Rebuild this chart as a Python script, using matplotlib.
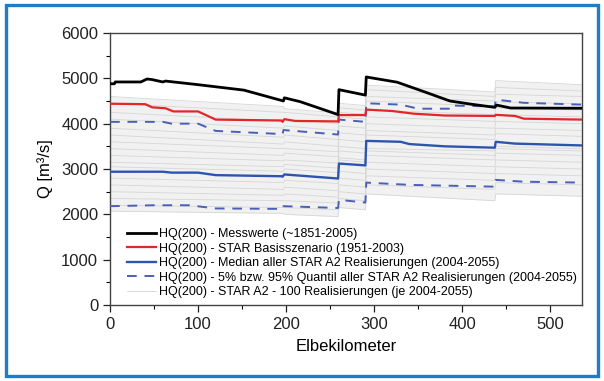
import numpy as np
import matplotlib
matplotlib.use("Agg")
import matplotlib.pyplot as plt
from matplotlib.patches import Rectangle
from matplotlib.ticker import MultipleLocator

plt.rcParams["font.family"] = ["Liberation Sans", "DejaVu Sans"]

# -----------------------
# Data
# -----------------------
x_mess = [0, 5, 6, 35, 42, 47, 60, 63, 100, 152, 197, 198, 216, 259, 260, 290, 291,
          326, 356, 386, 410, 437, 439, 455, 535]
y_mess = [4880, 4880, 4920, 4920, 4985, 4975, 4920, 4940, 4860, 4740, 4500, 4570, 4485, 4200, 4750, 4630, 5030,
          4915, 4710, 4500, 4430, 4360, 4410, 4345, 4340]

x_basis = [0, 40, 48, 63, 72, 100, 120, 195, 196, 198, 210, 259, 260, 290, 291, 320, 345, 380,
           437, 438, 460, 470, 535]
y_basis = [4440, 4430, 4360, 4340, 4270, 4270, 4090, 4070, 4040, 4100, 4060, 4050, 4190, 4190, 4310, 4280, 4220, 4180,
           4170, 4195, 4170, 4110, 4090]

x_median = [0, 60, 70, 100, 120, 195, 196, 198, 259, 260, 290, 291, 330, 340, 380, 437, 438, 460, 535]
y_median = [2940, 2940, 2920, 2920, 2865, 2840, 2830, 2880, 2790, 3120, 3080, 3620, 3600, 3550, 3500, 3470, 3600, 3560, 3520]

x_q95 = [0, 60, 70, 100, 120, 196, 197, 259, 260, 290, 291, 330, 350, 385, 386, 437, 438, 470, 535]
y_q95 = [4040, 4040, 4000, 4000, 3840, 3770, 3860, 3760, 4090, 4040, 4450, 4420, 4330, 4330, 4400, 4380, 4530, 4460, 4420]

x_q05 = [0, 50, 90, 120, 196, 197, 259, 260, 290, 291, 340, 437, 438, 470, 535]
y_q05 = [2180, 2200, 2200, 2130, 2120, 2180, 2140, 2320, 2260, 2700, 2650, 2610, 2760, 2720, 2700]

# a selection of the 100 STAR A2 realisations (values at the segment ends)
x_real = [0, 197, 198, 259, 260, 290, 291, 437, 438, 535]
realisierungen = [
    [4600, 4380, 4330, 4240, 4450, 4400, 4850, 4700, 4950, 4860],
    [4450, 4250, 4250, 4150, 4350, 4300, 4750, 4600, 4800, 4720],
    [4250, 4050, 4100, 4000, 4250, 4200, 4600, 4500, 4650, 4600],
    [4100, 3900, 3950, 3850, 4150, 4100, 4500, 4380, 4480, 4440],
    [3900, 3700, 3750, 3650, 3950, 3900, 4300, 4200, 4350, 4300],
    [3750, 3550, 3600, 3500, 3800, 3750, 4150, 4050, 4200, 4150],
    [3600, 3450, 3450, 3380, 3650, 3600, 4000, 3900, 4050, 4000],
    [3450, 3300, 3350, 3270, 3500, 3450, 3850, 3750, 3900, 3850],
    [3300, 3180, 3200, 3130, 3400, 3350, 3750, 3650, 3780, 3720],
    [3150, 3050, 3100, 3020, 3250, 3200, 3450, 3400, 3500, 3450],
    [3050, 2950, 3000, 2920, 3200, 3150, 3400, 3300, 3450, 3400],
    [2800, 2700, 2750, 2680, 2950, 2900, 3300, 3200, 3350, 3300],
    [2650, 2550, 2600, 2520, 2800, 2750, 3150, 3050, 3200, 3150],
    [2500, 2420, 2450, 2380, 2650, 2600, 3000, 2900, 3050, 3000],
    [2350, 2300, 2300, 2250, 2500, 2450, 2850, 2750, 2900, 2850],
    [2200, 2150, 2150, 2100, 2350, 2300, 2650, 2550, 2700, 2650],
    [2070, 2020, 2000, 1950, 2150, 2100, 2450, 2300, 2450, 2400],
]

labels = [
    "HQ(200) - Messwerte (~1851-2005)",
    "HQ(200) - STAR Basisszenario (1951-2003)",
    "HQ(200) - Median aller STAR A2 Realisierungen (2004-2055)",
    "HQ(200) - 5% bzw. 95% Quantil aller STAR A2 Realisierungen (2004-2055)",
    "HQ(200) - STAR A2 - 100 Realisierungen (je 2004-2055)",
]

# -----------------------
# Plot
# -----------------------
fig = plt.figure(figsize=(6.04, 3.81), dpi=100)
ax = fig.add_axes([110 / 604, 1 - 305 / 381, 472 / 604, 272 / 381])

gray = "#d6d6d6"
ax.fill_between(x_real, realisierungen[-1], realisierungen[0], color="#f1f1f1", lw=0, zorder=1)
for i, row in enumerate(realisierungen):
    ax.plot(x_real, row, color=gray, lw=0.6, zorder=2,
            label=labels[4] if i == 0 else None)

dash_col = "#4b5fb5"
ax.plot(x_q95, y_q95, color=dash_col, lw=1.4, dashes=(5, 4), zorder=3, label=labels[3])
ax.plot(x_q05, y_q05, color=dash_col, lw=1.4, dashes=(5, 4), zorder=3)
ax.plot(x_median, y_median, color="#2d55ad", lw=1.7, zorder=4, label=labels[2])
ax.plot(x_basis, y_basis, color="#e2262a", lw=1.6, zorder=5, label=labels[1])
ax.plot(x_mess, y_mess, color="black", lw=2.0, zorder=6, label=labels[0])

ax.set_xlim(0, 536)
ax.set_ylim(0, 6000)
ax.xaxis.set_major_locator(MultipleLocator(100))
ax.xaxis.set_minor_locator(MultipleLocator(50))
ax.yaxis.set_major_locator(MultipleLocator(1000))
ax.yaxis.set_minor_locator(MultipleLocator(500))
ax.tick_params(which="major", direction="out", length=5, width=0.9, labelsize=12, colors="#222222")
ax.tick_params(which="minor", direction="out", length=3, width=0.8)
for s in ax.spines.values():
    s.set_color("#444444")
    s.set_linewidth(1.0)

ax.set_xlabel("Elbekilometer", fontsize=12, labelpad=5)
ax.set_ylabel("Q [m³/s]", fontsize=12, labelpad=6)

handles, labs = ax.get_legend_handles_labels()
order = [labs.index(l) for l in labels]
ax.legend([handles[i] for i in order], [labs[i] for i in order],
          loc="lower left", bbox_to_anchor=(0.036, 0.025), frameon=False,
          fontsize=9, handlelength=2.3, handletextpad=0.25, labelspacing=0.2,
          borderpad=0, borderaxespad=0)

# blue frame around the figure
fig.patches.append(Rectangle((6 / 604, 5 / 381), 592 / 604, 371 / 381, transform=fig.transFigure,
                             fill=False, edgecolor="#1f7cc6", lw=2.4))

plt.savefig("out.png", dpi=100)
plt.close()
